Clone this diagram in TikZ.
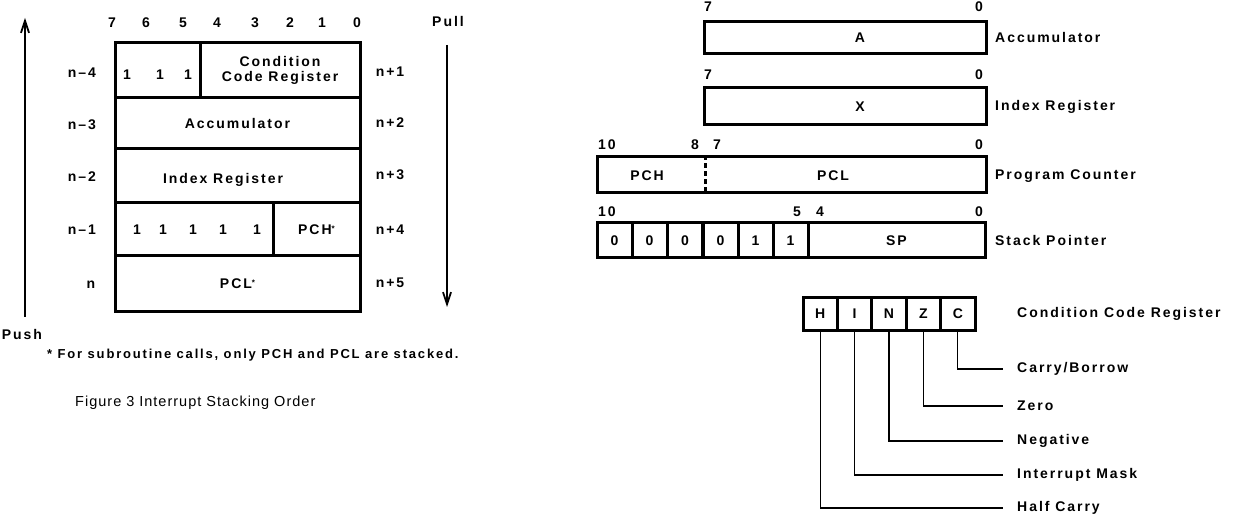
\documentclass[tikz,border=0pt]{standalone}
\usepackage{fontspec}
\setmainfont{Liberation Sans}[LetterSpace=14, BoldFont={Liberation Sans Bold}]
\newfontfamily\capfont{Liberation Sans}[LetterSpace=7]
\usetikzlibrary{arrows.meta}
\tikzset{
  reg/.style={draw, line width=3pt, inner sep=0pt, rectangle},
  txt/.style={inner sep=0pt, font=\fontsize{14}{16}\selectfont\bfseries},
  small/.style={inner sep=0pt, font=\fontsize{13}{15}\selectfont\bfseries},
  captxt/.style={inner sep=0pt, font=\fontsize{14.5}{16}\capfont},
  wire/.style={line width=1.2pt},
  flow/.style={line width=1.8pt, -{Straight Barb[length=12pt,width=8pt,line width=1.8pt]}}
}
\begin{document}
\begin{tikzpicture}[x=1pt,y=-1pt]
\useasboundingbox (0,0) rectangle (1240,518);
% ---------- left: stacking order ----------
\node[reg, minimum width=85pt, minimum height=55pt] (r1a) at (157.5,70.5) {};
\node[reg, minimum width=160pt, minimum height=55pt, align=center, txt] (r1b) at (280,70.5) {Condition\\[-1pt]Code Register};
\node[reg, minimum width=245pt, minimum height=51pt, txt] (r2) at (237.5,123.5) {Accumulator};
\node[reg, minimum width=245pt, minimum height=54pt] (r3) at (237.5,176) {};
\node[reg, minimum width=158pt, minimum height=53pt] (r4a) at (194,229.5) {};
\node[reg, minimum width=87pt, minimum height=53pt, txt] (r4b) at (316.5,229.5) {PCH\raisebox{3pt}{\fontsize{8}{8}\selectfont *}};
\node[reg, minimum width=245pt, minimum height=56pt, txt] (r5) at (237.5,284) {PCL\raisebox{3pt}{\fontsize{8}{8}\selectfont *}};
\node[txt] (ixr) at (223,180) {Index Register};
\foreach \x [count=\i] in {127,160,188} \node[txt] (oa\i) at (\x,75) {1};
\foreach \x [count=\i] in {137,163,193,223,257} \node[txt] (ob\i) at (\x,230) {1};
\foreach \b/\x in {7/112,6/146,5/183,4/217,3/255,2/290,1/322,0/357}
  \node[txt] (bit\b) at (\x,23) {\b};
\node[txt] (lm4) at (82,73) {n–4};
\node[txt] (lm3) at (82,125) {n–3};
\node[txt] (lm2) at (82,177) {n–2};
\node[txt] (lm1) at (82,230) {n–1};
\node[txt] (lm0) at (91,285) {n};
\node[txt] (lp1) at (390,72) {n+1};
\node[txt] (lp2) at (390,123) {n+2};
\node[txt] (lp3) at (390,175) {n+3};
\node[txt] (lp4) at (390,230) {n+4};
\node[txt] (lp5) at (390,283) {n+5};
\coordinate (pushbot) at (25,317);
\coordinate (pushtop) at (25,18);
\draw[flow] (pushbot) -- (pushtop);
\node[txt] (push) at (22,334) {Push};
\coordinate (pulltop) at (447,45);
\coordinate (pullbot) at (447,307);
\draw[flow] (pulltop) -- (pullbot);
\node[txt] (pull) at (448,22) {Pull};
\node[small, anchor=west] (note) at (47,355) {* For subroutine calls, only PCH and PCL are stacked.};
\node[captxt, anchor=west] (cap) at (75,403) {Figure 3\,\,Interrupt Stacking Order};
% ---------- right: programming model ----------
\node[reg, minimum width=282pt, minimum height=32pt, txt] (A) at (845,38) {\hspace{30pt}A};
\node[reg, minimum width=282pt, minimum height=37pt, txt] (X) at (845,106.5) {\hspace{30pt}X};
\node[reg, minimum width=389pt, minimum height=36pt] (PC) at (791.5,175) {};
\coordinate (div) at (705,0);
\draw[line width=3pt, dash pattern=on 5pt off 3pt] (PC.north -| div) -- (PC.south -| div);
\node[txt] (pch) at (647,176) {PCH};
\node[txt] (pcl) at (833,176) {PCL};
\foreach \v/\x [count=\i] in {0/614.5,0/649.5,0/685,0/720.5,1/755.5,1/790.5}
  \node[reg, minimum width=35pt, minimum height=35pt, txt] (s\i) at (\x,240.5) {\v};
\node[reg, minimum width=177pt, minimum height=35pt, txt] (sp) at (896.5,240.5) {SP};
% bit numbers
\node[txt] (a7) at (708,7) {7};
\node[txt] (a0) at (979,7) {0};
\node[txt] (x7) at (708,75) {7};
\node[txt] (x0) at (979,75) {0};
\node[txt] (p10) at (607,145) {10};
\node[txt] (p8) at (695,145) {8};
\node[txt] (p7) at (717,145) {7};
\node[txt] (p0) at (979,145) {0};
\node[txt] (q10) at (607,212) {10};
\node[txt] (q5) at (797,212) {5};
\node[txt] (q4) at (820,212) {4};
\node[txt] (q0) at (979,212) {0};
% register names
\node[txt, anchor=west] (nA) at (995,38) {Accumulator};
\node[txt, anchor=west] (nX) at (995,107) {Index Register};
\node[txt, anchor=west] (nPC) at (995,176) {Program Counter};
\node[txt, anchor=west] (nSP) at (995,240) {Stack Pointer};
% condition code register
\foreach \n/\x in {H/820.2,I/854.6,N/889,Z/923.4,C/957.8}
  \node[reg, minimum width=34.4pt, minimum height=33pt, txt] (c\n) at (\x,314) {\n};
\node[txt, anchor=west] (nCCR) at (1017,314) {Condition Code Register};
\node[txt, anchor=west] (fC) at (1017,369) {Carry/Borrow};
\node[txt, anchor=west] (fZ) at (1017,406) {Zero};
\node[txt, anchor=west] (fN) at (1017,441) {Negative};
\node[txt, anchor=west] (fI) at (1017,475) {Interrupt Mask};
\node[txt, anchor=west] (fH) at (1017,508) {Half Carry};
\foreach \n in {C,Z,N,I,H}
  \draw[wire] (c\n.south) |- ([xshift=-14pt]f\n.west);
\end{tikzpicture}
\end{document}
